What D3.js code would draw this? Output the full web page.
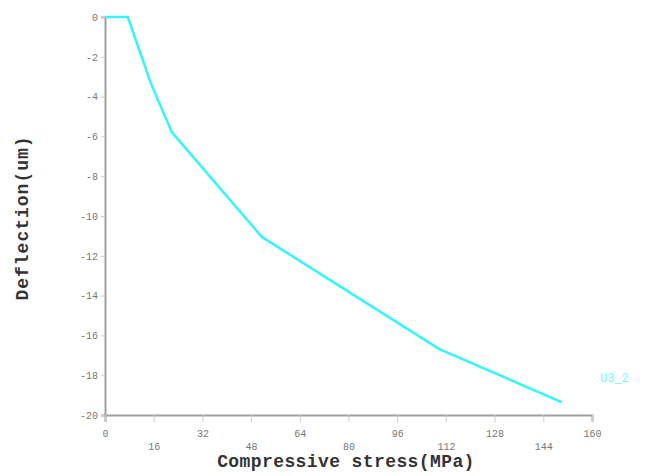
<!DOCTYPE html>
<html>
<head>
<meta charset="utf-8">
<script src="https://cdn.jsdelivr.net/npm/d3@7"></script>
<style>
body { margin:0; background:#fff; }
</style>
</head>
<body>
<div id="chart"></div>
<script>
// stress (MPa) vs deflection (um)
var stress = [0, 7.5, 15, 22, 51.5, 110, 150];
var deflection = [0, 0, -3.3, -5.8, -11.05, -16.7, -19.35];
var xTicks = [0, 16, 32, 48, 64, 80, 96, 112, 128, 144, 160];
var yTicks = [0, -2, -4, -6, -8, -10, -12, -14, -16, -18, -20];
var seriesName = "U3_2";

var svgWidth = 647;
var svgHeight = 476;

var margin = {top:17, left:105, right:55, bottom:61};
var width = svgWidth - margin.left - margin.right;
var height = svgHeight - margin.top - margin.bottom;

var svg = d3.select("#chart")
    .append("svg")
    .attr("width", svgWidth)
    .attr("height", svgHeight);

var chart = svg.append("g")
    .attr("transform", "translate(" + margin.left + "," + margin.top + ")");

var x = d3.scaleLinear().domain([0, 160]).range([0, width]);
var y = d3.scaleLinear().domain([0, -20]).range([0, height]);

// y axis
var yAxis = chart.append("g")
    .call(d3.axisLeft(y).tickValues(yTicks).tickSize(4).tickFormat(function(d) { return String(d); }));
yAxis.select(".domain").attr("stroke", "#a0a0a0").attr("stroke-width", 2);
yAxis.selectAll(".tick line").attr("stroke", "#ccc");
yAxis.selectAll(".tick text")
    .attr("fill", "#777")
    .style("font-family", "Liberation Mono")
    .style("font-size", "10px");

// x axis with staggered labels
var xAxis = chart.append("g")
    .attr("transform", "translate(0," + height + ")")
    .call(d3.axisBottom(x).tickValues(xTicks).tickSize(7).tickFormat(function(d) { return String(d); }));
xAxis.select(".domain").attr("stroke", "#a0a0a0").attr("stroke-width", 2);
xAxis.selectAll(".tick line").attr("stroke", "#ccc");
xAxis.selectAll(".tick text")
    .attr("fill", "#777")
    .attr("y", function(d, i) { return i % 2 == 0 ? 15 : 28; })
    .style("font-family", "Liberation Mono")
    .style("font-size", "10px");

var points = stress.map(function(s, i) { return [s, deflection[i]]; });

var line = d3.line()
    .x(function(d) { return x(d[0]); })
    .y(function(d) { return y(d[1]); });

chart.append("path")
    .datum(points)
    .attr("fill", "none")
    .attr("stroke", "#33f5ff")
    .attr("stroke-width", 2.5)
    .attr("stroke-linejoin", "round")
    .attr("d", line);

// series label
svg.append("text")
    .attr("x", 600)
    .attr("y", 382)
    .attr("fill", "#66ffff")
    .style("font-family", "Liberation Mono")
    .style("font-size", "12px")
    .text(seriesName);

// axis titles
svg.append("text")
    .attr("transform", "translate(28,218) rotate(-90)")
    .attr("text-anchor", "middle")
    .attr("fill", "#333")
    .style("font-family", "Liberation Mono")
    .style("font-weight", "bold")
    .style("font-size", "18px")
    .style("letter-spacing", "1px")
    .text("Deflection(um)");

svg.append("text")
    .attr("x", 346)
    .attr("y", 467)
    .attr("text-anchor", "middle")
    .attr("fill", "#333")
    .style("font-family", "Liberation Mono")
    .style("font-weight", "bold")
    .style("font-size", "18px")
    .style("letter-spacing", "0.4px")
    .text("Compressive stress(MPa)");
</script>
</body>
</html>
